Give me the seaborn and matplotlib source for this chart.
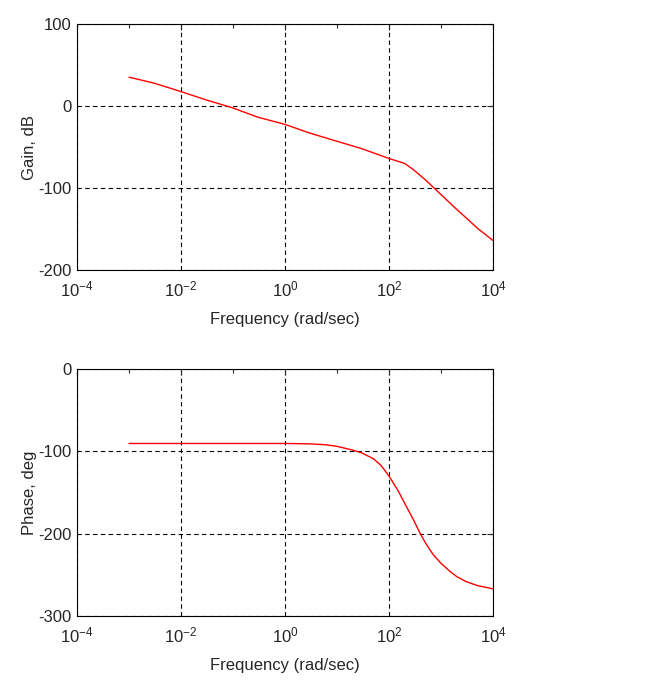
import numpy as np
import pandas as pd
import matplotlib
matplotlib.use("Agg")
import matplotlib.pyplot as plt
import matplotlib.ticker as mticker
import seaborn as sns

# Gain curve
gain_freq = [1e-3, 3e-3, 1e-2, 3e-2, 1e-1, 3e-1, 1e0, 3e0, 1e1, 3e1, 1e2, 2e2, 3e2, 5e2, 1e3, 2e3, 3e3, 5e3, 1e4]
gain_db = [35.2, 28, 17.6, 7.6, -2.4, -13.6, -22.4, -33, -43, -52, -64, -70, -78, -90, -108, -126, -136, -149, -164]

# Phase curve
phase_freq = [1e-3, 1e-2, 1e-1, 1e0, 3e0, 6e0, 1e1, 2e1, 3e1, 5e1, 7e1, 1e2, 1.5e2, 2e2, 3e2, 4e2, 5e2, 7e2, 1e3, 1.5e3, 2e3, 3e3, 5e3, 1e4]
phase_deg = [-90.5, -90.5, -90.5, -90.5, -91, -92, -94, -98.5, -102, -109, -117, -130, -148, -163, -184, -200, -211, -225, -236, -246, -252, -258, -263, -267]

x_ticks = [1e-4, 1e-2, 1e0, 1e2, 1e4]
x_labels = ["$10^{-4}$", "$10^{-2}$", "$10^{0}$", "$10^{2}$", "$10^{4}$"]

sns.set_style("white")
plt.rcParams["font.family"] = ["Liberation Sans", "DejaVu Sans"]
plt.rcParams["axes.unicode_minus"] = False
plt.rcParams["mathtext.fontset"] = "custom"
plt.rcParams["mathtext.rm"] = "Liberation Sans"
plt.rcParams["mathtext.it"] = "Liberation Sans"
plt.rcParams["mathtext.default"] = "regular"

fig = plt.figure(figsize=(6.72, 6.87), dpi=100)
ax1 = fig.add_axes([0.1146, 0.607, 0.619, 0.358])
ax2 = fig.add_axes([0.1146, 0.1033, 0.619, 0.3597])

gain_df = pd.DataFrame({"freq": gain_freq, "gain": gain_db})
phase_df = pd.DataFrame({"freq": phase_freq, "phase": phase_deg})

sns.lineplot(data=gain_df, x="freq", y="gain", ax=ax1, color="red", linewidth=1)
sns.lineplot(data=phase_df, x="freq", y="phase", ax=ax2, color="red", linewidth=1)

def style_axes(ax, ylim, yticks, ylabel):
    ax.set_xscale("log")
    ax.set_xlim(1e-4, 1e4)
    ax.set_ylim(*ylim)
    ax.set_xticks(x_ticks)
    ax.set_xticklabels(x_labels)
    ax.xaxis.set_minor_locator(mticker.FixedLocator([1e-3, 1e-1, 1e1, 1e3]))
    ax.xaxis.set_minor_formatter(mticker.NullFormatter())
    ax.set_yticks(yticks)
    ax.set_xlabel("Frequency (rad/sec)", fontsize=12, labelpad=9)
    ax.set_ylabel(ylabel, fontsize=12, labelpad=1)
    ax.grid(True, which="major", color="black", linestyle=(0, (4, 3)), linewidth=0.8)
    ax.tick_params(which="both", direction="in", top=True, right=True, labelsize=12,
                   length=4, width=0.8)
    ax.tick_params(axis="x", which="major", pad=7)
    ax.tick_params(axis="y", which="major", pad=4)
    ax.tick_params(which="minor", length=3)
    for s in ax.spines.values():
        s.set_color("black")
        s.set_linewidth(0.8)

style_axes(ax1, (-200, 100), [-200, -100, 0, 100], "Gain, dB")
style_axes(ax2, (-300, 0), [-300, -200, -100, 0], "Phase, deg")

fig.savefig("out.png", dpi=100)
